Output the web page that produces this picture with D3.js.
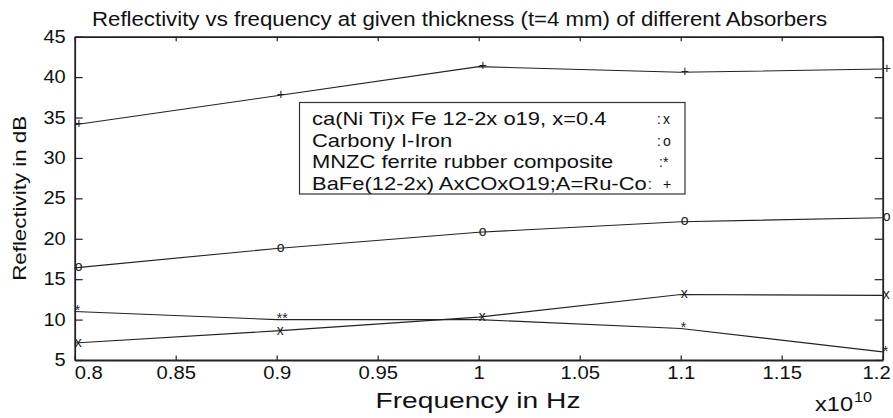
<!DOCTYPE html>
<html>
<head>
<meta charset="utf-8">
<script src="https://cdn.jsdelivr.net/npm/d3@7"></script>
<style>
  html, body { margin: 0; padding: 0; background: #fff; }
  svg { display: block; font-family: "Liberation Sans", Arial, Helvetica, sans-serif; }
</style>
</head>
<body>
<svg id="chart" width="893" height="418"></svg>
<script>
// Frequency in units of 1e10 Hz
const frequency = [0.8, 0.9, 1.0, 1.1, 1.2];

// Reflectivity (dB) per absorber at t = 4 mm
const caNiTi    = [7.1, 8.6, 10.3, 13.1, 13.0];
const carbonyl  = [16.4, 18.8, 20.8, 22.1, 22.6];
const mnzc      = [11.0, 10.0, 10.0, 8.9, 6.0];
const baFeRuCo  = [34.1, 37.7, 41.3, 40.6, 41.0];

// Text marks printed at each point
const caNiTiMarks   = ["x", "x", "x", "x", "x"];
const carbonylMarks = ["o", "o", "o", "o", "o"];
const mnzcMarks     = ["*", "**", "", "*", "*"];
const baFeMarks     = ["+", "+", "+", "+", "+"];

const legendNames = [
  "ca(Ni Ti)x Fe 12-2x o19, x=0.4",
  "Carbony I-Iron",
  "MNZC ferrite rubber composite",
  "BaFe(12-2x) AxCOxO19;A=Ru-Co"
];
const legendSymbols = ["x", "o", "*", "+"];

const xTickValues = [0.8, 0.85, 0.9, 0.95, 1.0, 1.05, 1.1, 1.15, 1.2];
const xTickLabels = ["0.8", "0.85", "0.9", "0.95", "1", "1.05", "1.1", "1.15", "1.2"];
const yTickValues = [5, 10, 15, 20, 25, 30, 35, 40, 45];
const yTickLabels = ["5", "10", "15", "20", "25", "30", "35", "40", "45"];

const titleText = "Reflectivity vs frequency at given thickness (t=4 mm) of different Absorbers";
const xLabelText = "Frequency in Hz";
const yLabelText = "Reflectivity in dB";

const series = [
  { values: caNiTi, marks: caNiTiMarks },
  { values: carbonyl, marks: carbonylMarks },
  { values: mnzc, marks: mnzcMarks },
  { values: baFeRuCo, marks: baFeMarks }
];

const svg = d3.select("#chart");
const plot = { left: 74.7, right: 882.7, top: 36.7, bottom: 360 };
const ink = "#222";

const x = d3.scaleLinear().domain([0.8, 1.2]).range([plot.left, plot.right]);
const y = d3.scaleLinear().domain([5, 45]).range([plot.bottom, plot.top]);

// Widen text along its reading direction (the typeface runs wide)
function widen(sel, k) {
  sel.each(function () {
    const w = this.getComputedTextLength();
    d3.select(this).attr("textLength", w * k).attr("lengthAdjust", "spacingAndGlyphs");
  });
}

// Axes: ticks point inward on all four sides
const xFmt = (d) => xTickLabels[xTickValues.indexOf(d)];
const yFmt = (d) => yTickLabels[yTickValues.indexOf(d)];

const gx = svg.append("g").attr("transform", `translate(0,${plot.bottom})`)
  .call(d3.axisBottom(x).tickValues(xTickValues).tickFormat(xFmt)
    .tickSizeInner(-4.5).tickSizeOuter(0).tickPadding(7));
const gxTop = svg.append("g").attr("transform", `translate(0,${plot.top})`)
  .call(d3.axisTop(x).tickValues(xTickValues).tickFormat("")
    .tickSizeInner(-4.5).tickSizeOuter(0));
const gy = svg.append("g").attr("transform", `translate(${plot.left},0)`)
  .call(d3.axisLeft(y).tickValues(yTickValues).tickFormat(yFmt)
    .tickSizeInner(-8).tickSizeOuter(0).tickPadding(9));
const gyRight = svg.append("g").attr("transform", `translate(${plot.right},0)`)
  .call(d3.axisRight(y).tickValues(yTickValues).tickFormat("")
    .tickSizeInner(-8).tickSizeOuter(0));

[gx, gxTop, gy, gyRight].forEach((g) => {
  g.select(".domain").attr("stroke", ink).attr("stroke-width", 1.8);
  g.selectAll(".tick line").attr("stroke", ink).attr("stroke-width", 1.2);
  g.selectAll(".tick text").attr("fill", "#111")
    .style("font-family", '"Liberation Sans", Arial, sans-serif')
    .style("font-size", "17.6px");
});
widen(gx.selectAll(".tick text"), 1.15);
widen(gy.selectAll(".tick text"), 1.14);

// End labels of the frequency axis are kept inside the frame
const xLabelsSel = gx.selectAll(".tick text");
xLabelsSel.filter((d) => d === xTickValues[0]).attr("text-anchor", "start").attr("x", -0.5);
xLabelsSel.filter((d) => d === xTickValues[xTickValues.length - 1]).attr("text-anchor", "end").attr("x", 7.5);

// Data lines
const line = d3.line().x((d, i) => x(frequency[i])).y((d) => y(d));
series.forEach((s) => {
  svg.append("path").datum(s.values)
    .attr("d", line)
    .attr("fill", "none")
    .attr("stroke", ink)
    .attr("stroke-width", 1.1);
});

// Text markers, left-aligned at each data point
series.forEach((s) => {
  svg.append("g").selectAll("text")
    .data(s.values.map((v, i) => ({ v, f: frequency[i], m: s.marks[i] })).filter((d) => d.m))
    .join("text")
    .attr("x", (d) => x(d.f))
    .attr("y", (d) => y(d.v))
    .attr("dy", "0.26em")
    .attr("font-size", 14)
    .attr("fill", ink)
    .text((d) => d.m);
});

// Legend box
const legend = svg.append("g");
legend.append("rect")
  .attr("x", 299.5).attr("y", 102.5)
  .attr("width", 385.5).attr("height", 91.5)
  .attr("fill", "#fff").attr("stroke", "#333").attr("stroke-width", 1.2);
const rowBase = [125, 146.7, 168.3, 190];
const colonX = [657, 657, 659, 648];
legendNames.forEach((name, i) => {
  const t = legend.append("text")
    .attr("x", 312).attr("y", rowBase[i])
    .attr("font-size", 18.6).attr("fill", "#111")
    .text(name);
  widen(t, 1.18);
  legend.append("text")
    .attr("x", colonX[i]).attr("y", rowBase[i] - 1)
    .attr("font-size", 14).attr("fill", "#111")
    .text(":");
  legend.append("text")
    .attr("x", 663).attr("y", rowBase[i] - 1)
    .attr("font-size", 14).attr("fill", "#111")
    .text(legendSymbols[i]);
});

// Title
svg.append("text")
  .attr("x", 459.5).attr("y", 26)
  .attr("text-anchor", "middle")
  .attr("font-size", 20).attr("fill", "#111")
  .text(titleText)
  .attr("textLength", 735).attr("lengthAdjust", "spacingAndGlyphs");

// Axis labels
svg.append("text")
  .attr("x", 478).attr("y", 408)
  .attr("text-anchor", "middle")
  .attr("font-size", 21.5).attr("fill", "#111")
  .text(xLabelText)
  .attr("textLength", 205).attr("lengthAdjust", "spacingAndGlyphs");

svg.append("text")
  .attr("transform", `translate(26,${(plot.top + plot.bottom) / 2}) rotate(-90)`)
  .attr("text-anchor", "middle")
  .attr("font-size", 18).attr("fill", "#111")
  .text(yLabelText)
  .attr("textLength", 165).attr("lengthAdjust", "spacingAndGlyphs");

// Exponent note for the frequency axis
const expo = svg.append("text").attr("x", 815).attr("y", 411)
  .attr("font-size", 20.5).attr("fill", "#111");
expo.append("tspan").text("x10").attr("textLength", 38).attr("lengthAdjust", "spacingAndGlyphs");
expo.append("tspan").attr("x", 854).attr("dy", -9).attr("font-size", 15).text("10")
  .attr("textLength", 18).attr("lengthAdjust", "spacingAndGlyphs");
</script>
</body>
</html>
